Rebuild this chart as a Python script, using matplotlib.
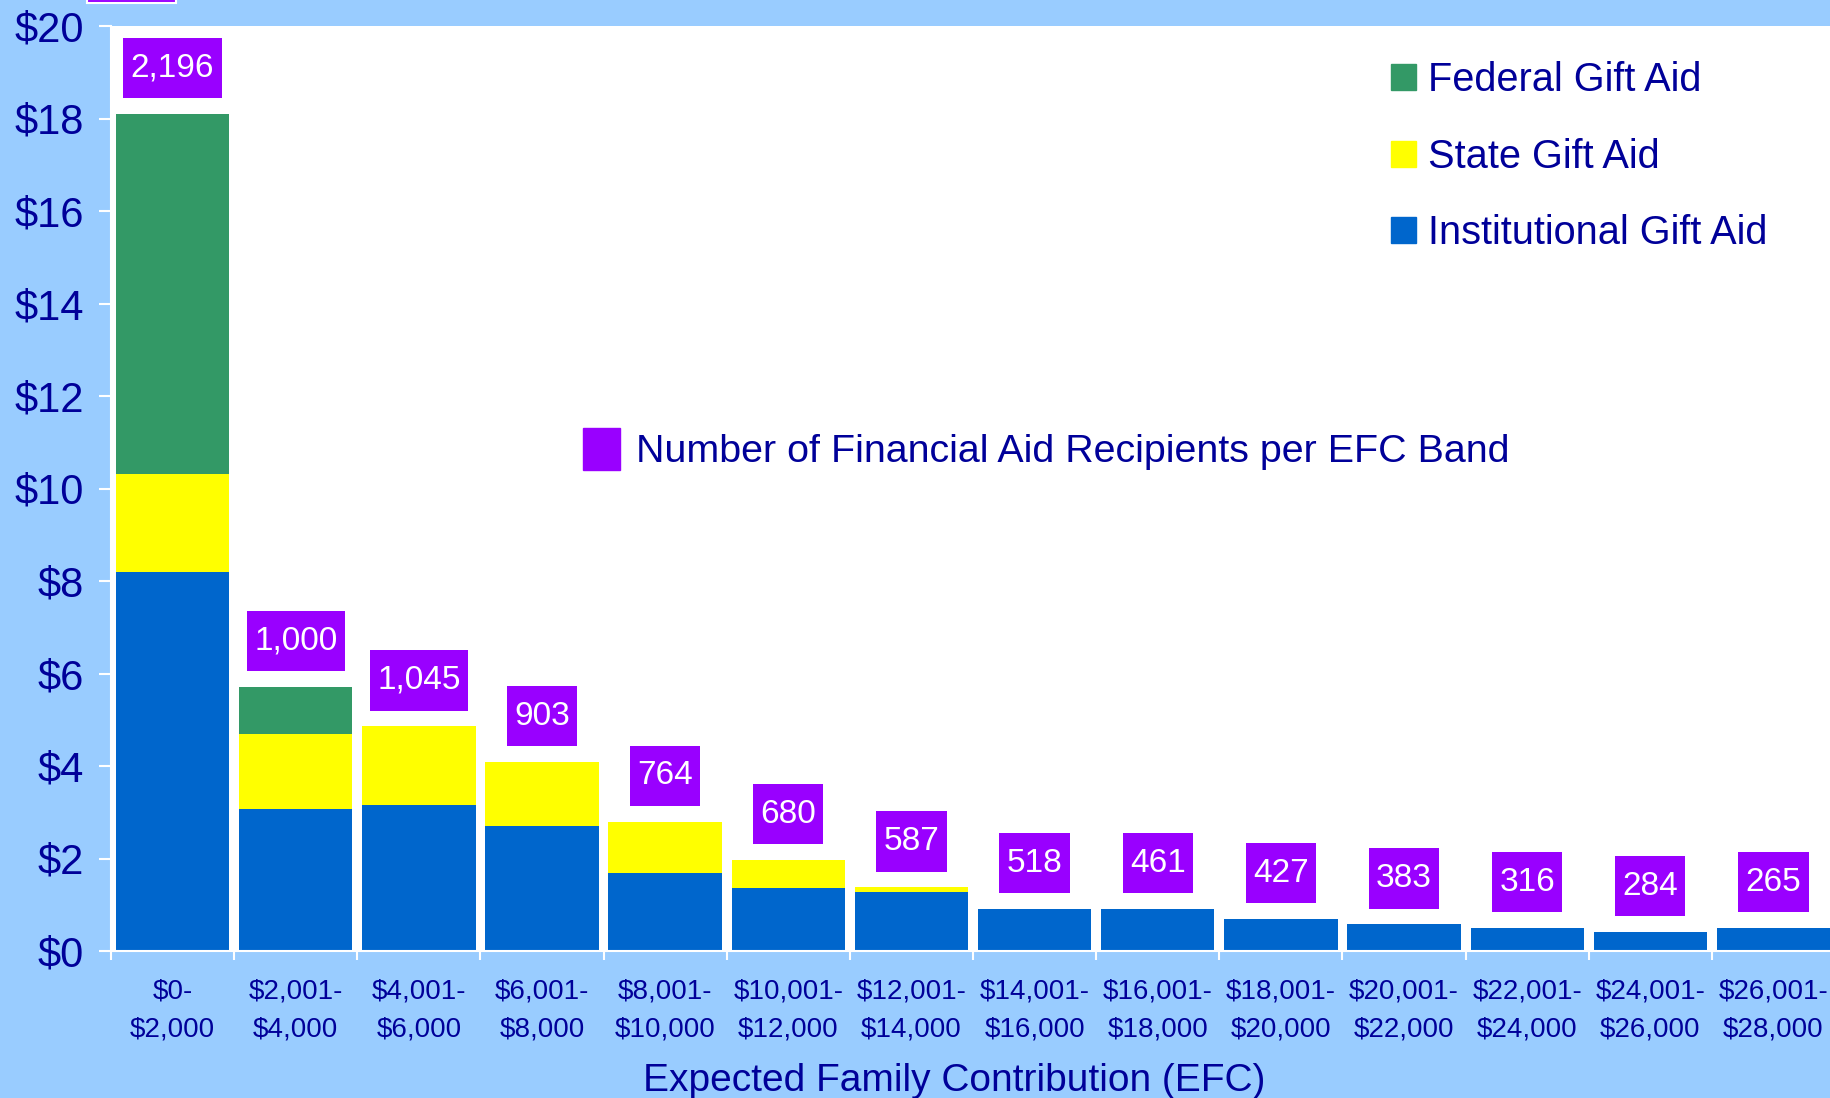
import matplotlib.pyplot as plt
from matplotlib.patches import Patch, Rectangle
from matplotlib.path import Path

plt.rcParams['font.family'] = ['Liberation Sans', 'DejaVu Sans']

# EFC bands and gift aid (in $ millions)
bands = ['$0-\n$2,000', '$2,001-\n$4,000', '$4,001-\n$6,000', '$6,001-\n$8,000',
         '$8,001-\n$10,000', '$10,001-\n$12,000', '$12,001-\n$14,000', '$14,001-\n$16,000',
         '$16,001-\n$18,000', '$18,001-\n$20,000', '$20,001-\n$22,000', '$22,001-\n$24,000',
         '$24,001-\n$26,000', '$26,001-\n$28,000']
institutional = [8.2, 3.07, 3.16, 2.70, 1.69, 1.36, 1.28, 0.91, 0.91, 0.69, 0.58, 0.50, 0.41, 0.50]
state = [2.11, 1.62, 1.70, 1.39, 1.11, 0.61, 0.10, 0, 0, 0, 0, 0, 0, 0]
federal = [7.79, 1.02, 0, 0, 0, 0, 0, 0, 0, 0, 0, 0, 0, 0]
recipients = [2196, 1000, 1045, 903, 764, 680, 587, 518, 461, 427, 383, 316, 284, 265]

bg = '#99CCFF'
navy = '#000099'
blue = '#0066CC'
yellow = '#FFFF00'
green = '#339966'
purple = '#9900FF'


def tall_box(x0, y0, width, height, mutation_size):
    # label box: narrow side padding, taller top/bottom padding
    px, py = 0.22 * mutation_size, 0.44 * mutation_size
    x0, y0 = x0 - px, y0 - py
    x1, y1 = x0 + width + 2 * px, y0 + height + 2 * py
    return Path([(x0, y0), (x1, y0), (x1, y1), (x0, y1), (x0, y0)], closed=True)


W, H = 1830, 1098
fig = plt.figure(figsize=(W / 100, H / 100), dpi=100)
fig.patch.set_facecolor(bg)
ax = fig.add_axes([111 / W, 147 / H, (W - 111) / W, 925 / H])
ax.set_facecolor('white')

x = list(range(len(bands)))
bw = 0.92
bottom2 = [a + b for a, b in zip(institutional, state)]
ax.bar(x, institutional, bw, color=blue, zorder=2)
ax.bar(x, state, bw, bottom=institutional, color=yellow, zorder=2)
ax.bar(x, federal, bw, bottom=bottom2, color=green, zorder=2)

totals = [a + b + c for a, b, c in zip(institutional, state, federal)]
for xi, t, n in zip(x, totals, recipients):
    ax.annotate(f'{n:,}', (xi, t), xytext=(0, 33), textcoords='offset points',
                ha='center', va='center', fontsize=24, color='white', zorder=3,
                bbox=dict(boxstyle=tall_box, fc=purple, ec='none'))

ax.set_ylim(0, 20)
ax.set_xlim(-0.5, 13.5 - 5 / 123)
ax.set_yticks(range(0, 21, 2))
ax.set_yticklabels([f'${v}' for v in range(0, 21, 2)])
ax.set_xticks(x)
ax.set_xticklabels(bands, linespacing=1.6)
ax.set_xticks([i - 0.5 for i in range(len(bands))], minor=True)
ax.tick_params(axis='y', colors='white', labelcolor=navy, labelsize=30,
               length=8.5, width=1.5, pad=11)
ax.tick_params(axis='x', which='major', length=0, labelcolor=navy, labelsize=20, pad=19.5)
ax.tick_params(axis='x', which='minor', colors='white', length=6.5, width=1.5)
for side in ['top', 'right']:
    ax.spines[side].set_visible(False)
for side in ['left', 'bottom']:
    ax.spines[side].set_color('white')
    ax.spines[side].set_linewidth(1.5)

handles = [Patch(color=green, label='Federal Gift Aid'),
           Patch(color=yellow, label='State Gift Aid'),
           Patch(color=blue, label='Institutional Gift Aid')]
leg = ax.legend(handles=handles, loc='upper left', bbox_to_anchor=(1391 / W, 1 - 61 / H),
                bbox_transform=fig.transFigure, frameon=False, fontsize=28.6,
                handlelength=0.63, handleheight=0.63, handletextpad=0.3,
                labelspacing=0.97, borderpad=0, borderaxespad=0, labelcolor=navy)
ax.add_artist(leg)

ax.legend(handles=[Patch(color=purple, label='Number of Financial Aid Recipients per EFC Band')],
          loc='upper left', bbox_to_anchor=(583 / W, 1 - 428 / H),
          bbox_transform=fig.transFigure, frameon=False, fontsize=28.4,
          handlelength=0.93, handleheight=1.25, handletextpad=0.42,
          borderpad=0, borderaxespad=0, labelcolor=navy)

fig.text(954 / W, 1 - 1091 / H, 'Expected Family Contribution (EFC)', ha='center',
         va='baseline', fontsize=28, color=navy)

# cut-off box at the top edge of the slide
fig.patches.append(Rectangle((87 / W, 1 - 3 / H), 89 / W, 4 / H, transform=fig.transFigure,
                             fc=purple, ec='white', lw=1.5))

fig.savefig('out.png', dpi=100, facecolor=bg)
